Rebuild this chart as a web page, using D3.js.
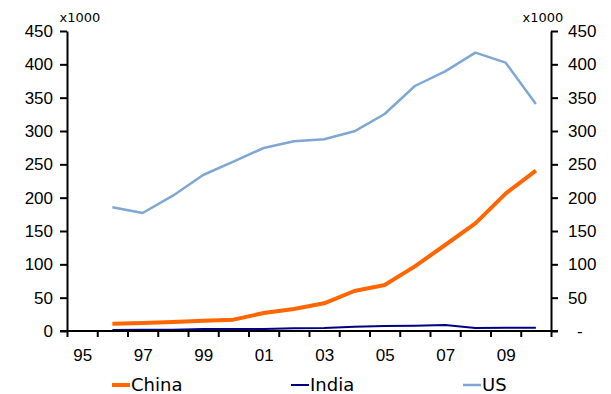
<!DOCTYPE html>
<html>
<head>
<meta charset="utf-8">
<script src="https://cdn.jsdelivr.net/npm/d3@7"></script>
<style>
  html, body { margin: 0; padding: 0; background: #fff; }
  svg { display: block; font-family: "DejaVu Sans", Verdana, sans-serif; }
</style>
</head>
<body>
<svg id="chart" width="611" height="394"></svg>
<script>
// Years covered by the series (one point per year)
const years = [1996, 1997, 1998, 1999, 2000, 2001, 2002, 2003, 2004, 2005, 2006, 2007, 2008, 2009, 2010];

// Values in thousands
const china = [11, 12, 13.5, 15.5, 17, 27, 33, 41.5, 60, 69, 97, 129, 161.5, 206, 240.5];
const india = [1.5, 2, 2, 3, 3, 3, 4, 4.5, 6.5, 7.5, 8, 9, 4.5, 5, 5];
const us = [185.5, 177, 203, 234, 254, 274.5, 284.5, 287.5, 299.5, 325.5, 367.5, 389.5, 417.5, 402.5, 340.5];

// Axis ticks and labels
const yTicks = [0, 50, 100, 150, 200, 250, 300, 350, 400, 450];
const xLabelYears = [1995, 1997, 1999, 2001, 2003, 2005, 2007, 2009];
const unitLabel = "x1000";

const series = [
  { name: "China", values: china, color: "#ff6600", width: 4 },
  { name: "India", values: india, color: "#000080", width: 2 },
  { name: "US", values: us, color: "#7fa7d2", width: 2.5 }
];

const svg = d3.select("#chart");
const plotLeft = 67, plotRight = 551, plotTop = 31, plotBottom = 331;

// Each year occupies one slot between two tick marks
const x = d3.scaleLinear().domain([1995, 2011]).range([plotLeft, plotRight]);
const y = d3.scaleLinear().domain([0, 450]).range([plotBottom, plotTop]);

const axisStyle = g => {
  g.selectAll(".domain").attr("stroke", "#000").attr("stroke-width", 2);
  g.selectAll(".tick line").attr("stroke", "#000").attr("stroke-width", 2);
  g.selectAll("text").attr("fill", "#000").attr("font-size", 17);
};

// Left value axis
svg.append("g")
  .attr("transform", `translate(${plotLeft},0)`)
  .call(d3.axisLeft(y).tickValues(yTicks).tickSize(7).tickSizeOuter(0).tickPadding(7))
  .call(axisStyle);

// Right value axis ("-" in place of zero)
const rightAxis = svg.append("g")
  .attr("transform", `translate(${plotRight},0)`)
  .call(d3.axisRight(y).tickValues(yTicks).tickSize(7).tickSizeOuter(0).tickPadding(10)
    .tickFormat(d => d === 0 ? "-" : d))
  .call(axisStyle);
rightAxis.selectAll(".tick").filter(d => d === 0).select("text").attr("x", 26);

// Lines
const line = d3.line()
  .x((d, i) => x(years[i] + 0.5))
  .y(d => y(d));

svg.append("g").selectAll("path")
  .data(series)
  .join("path")
  .attr("fill", "none")
  .attr("stroke", d => d.color)
  .attr("stroke-width", d => d.width)
  .attr("stroke-linejoin", "round")
  .attr("d", d => line(d.values));

// Category axis: tick marks on year boundaries, labels centred in each slot
svg.append("g")
  .attr("transform", `translate(0,${plotBottom})`)
  .call(d3.axisBottom(x).tickValues(d3.range(1995, 2012)).tickSize(6).tickSizeOuter(0).tickFormat(""))
  .call(axisStyle)
  .call(g => g.select(".domain").attr("d", `M${plotLeft - 7},0H${plotRight + 7}`));

svg.append("g")
  .attr("transform", `translate(0,${plotBottom})`)
  .call(d3.axisBottom(x).tickValues(xLabelYears.map(v => v + 0.5)).tickSize(0).tickPadding(18)
    .tickFormat(d => String(Math.floor(d) % 100).padStart(2, "0")))
  .call(axisStyle)
  .call(g => g.select(".domain").remove());

// Unit labels above both axes
svg.append("text").attr("x", 80).attr("y", 22).attr("text-anchor", "middle")
  .attr("font-size", 13).text(unitLabel);
svg.append("text").attr("x", 543).attr("y", 22).attr("text-anchor", "middle")
  .attr("font-size", 13).text(unitLabel);

// Legend
const legendX = [112, 291, 463];
const legend = svg.append("g").selectAll("g")
  .data(series)
  .join("g")
  .attr("transform", (d, i) => `translate(${legendX[i]},385)`);
legend.append("line")
  .attr("x1", 0).attr("x2", 18)
  .attr("stroke", d => d.color)
  .attr("stroke-width", d => d.width);
legend.append("text")
  .attr("x", 19).attr("dy", "0.35em")
  .attr("font-size", 18)
  .text(d => d.name);
</script>
</body>
</html>
